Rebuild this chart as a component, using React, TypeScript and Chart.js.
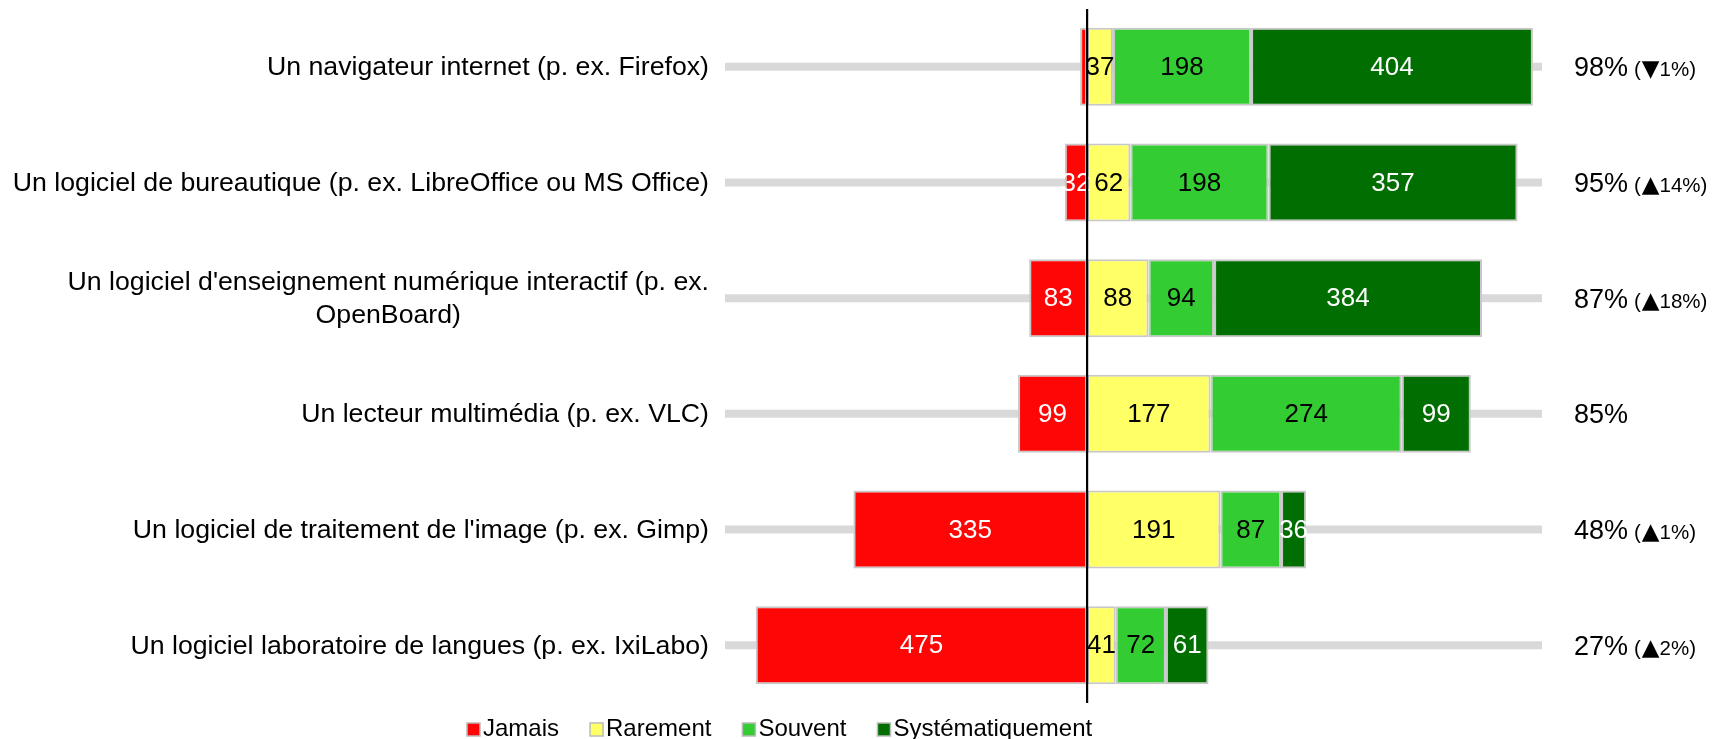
import React, { useEffect, useRef } from 'react';
import { Chart, registerables } from 'chart.js';

Chart.register(...registerables);

const categories: string[][] = [
  ['Un navigateur internet (p. ex. Firefox)'],
  ['Un logiciel de bureautique (p. ex. LibreOffice ou MS Office)'],
  ["Un logiciel d'enseignement numérique interactif (p. ex.", 'OpenBoard)'],
  ['Un lecteur multimédia (p. ex. VLC)'],
  ["Un logiciel de traitement de l'image (p. ex. Gimp)"],
  ['Un logiciel laboratoire de langues (p. ex. IxiLabo)'],
];

const seriesNames = ['Jamais', 'Rarement', 'Souvent', 'Systématiquement'];
const jamais = [10, 32, 83, 99, 335, 475];
const rarement = [37, 62, 88, 177, 191, 41];
const souvent = [198, 198, 94, 274, 87, 72];
const systematiquement = [404, 357, 384, 99, 36, 61];

const percentLabels = ['98%', '95%', '87%', '85%', '48%', '27%'];
const changeArrows = ['▼', '▲', '▲', '', '▲', '▲'];
const changeValues = ['1%', '14%', '18%', '', '1%', '2%'];

const xMin = -519;
const xMax = 652;

const colors = ['#fe0606', '#ffff66', '#33cc33', '#006e00'];
const labelColors = ['#ffffff', '#000000', '#000000', '#ffffff'];
const FONT = '"Liberation Sans", Arial, Helvetica, sans-serif';

const customDraw = {
  id: 'customDraw',
  beforeDatasetsDraw(chart: any) {
    const { ctx, chartArea, scales } = chart;
    const y = scales.y;
    ctx.save();
    ctx.strokeStyle = '#d9d9d9';
    ctx.lineWidth = 8;
    for (let i = 0; i < categories.length; i++) {
      const py = y.getPixelForValue(i);
      ctx.beginPath();
      ctx.moveTo(chartArea.left, py);
      ctx.lineTo(chartArea.right, py);
      ctx.stroke();
    }
    ctx.restore();
  },
  afterDatasetsDraw(chart: any) {
    const { ctx, chartArea, scales } = chart;
    const x = scales.x;
    const y = scales.y;
    ctx.save();
    // data labels
    ctx.font = `26px ${FONT}`;
    ctx.textAlign = 'center';
    ctx.textBaseline = 'middle';
    chart.data.datasets.forEach((ds: any, di: number) => {
      const meta = chart.getDatasetMeta(di);
      meta.data.forEach((el: any, i: number) => {
        const v = Math.abs(ds.data[i]);
        if (v < 20) return;
        const c = el.getCenterPoint();
        ctx.fillStyle = labelColors[di];
        ctx.fillText(String(v), c.x, c.y + 1);
      });
    });
    // zero line
    const zx = x.getPixelForValue(0);
    ctx.strokeStyle = '#000000';
    ctx.lineWidth = 2.2;
    ctx.beginPath();
    ctx.moveTo(zx, chartArea.top);
    ctx.lineTo(zx, chartArea.bottom);
    ctx.stroke();

    // left category labels
    ctx.font = `26.7px ${FONT}`;
    ctx.fillStyle = '#000000';
    ctx.textBaseline = 'middle';
    ctx.textAlign = 'center';
    const rightEdge = chartArea.left - 16;
    const lh = 33;
    categories.forEach((lines, i) => {
      const cy = y.getPixelForValue(i);
      const bw = Math.max(...lines.map((l) => ctx.measureText(l).width));
      const cx = rightEdge - bw / 2;
      lines.forEach((l, li) => {
        const ly = cy - ((lines.length - 1) * lh) / 2 + li * lh;
        ctx.fillText(l, cx, ly + 1);
      });
    });

    // right labels
    ctx.textAlign = 'left';
    ctx.textBaseline = 'alphabetic';
    percentLabels.forEach((p, i) => {
      const cy = y.getPixelForValue(i);
      const base = cy + 9.5;
      let sx = chartArea.right + 32;
      ctx.font = `27px ${FONT}`;
      ctx.fillText(p, sx, base);
      sx += ctx.measureText(p).width + 6;
      if (changeArrows[i]) {
        ctx.font = `20.5px ${FONT}`;
        ctx.fillText('(', sx, base);
        sx += ctx.measureText('(').width + 1;
        ctx.font = `23px "DejaVu Sans", sans-serif`;
        ctx.fillText(changeArrows[i], sx, base);
        sx += ctx.measureText(changeArrows[i]).width;
        ctx.font = `20.5px ${FONT}`;
        ctx.fillText(changeValues[i] + ')', sx, base);
      }
    });

    // legend
    ctx.font = `24px ${FONT}`;
    ctx.textBaseline = 'middle';
    let lx = 467;
    const ly = 729.5;
    chart.data.datasets.forEach((ds: any, di: number) => {
      ctx.fillStyle = colors[di];
      ctx.fillRect(lx, ly - 6.5, 13, 13);
      ctx.strokeStyle = '#bbbbbb';
      ctx.lineWidth = 1.5;
      ctx.strokeRect(lx, ly - 6.5, 13, 13);
      ctx.fillStyle = '#000000';
      ctx.fillText(ds.label, lx + 16, ly);
      lx += 16 + ctx.measureText(ds.label).width + 31;
    });
    ctx.restore();
  },
};

export default function App() {
  const ref = useRef<HTMLCanvasElement | null>(null);
  useEffect(() => {
    if (!ref.current) return;
    const seriesData = [jamais.map((v) => -v), rarement, souvent, systematiquement];
    const chart = new Chart(ref.current, {
      type: 'bar',
      data: {
        labels: categories,
        datasets: seriesNames.map((name, i) => ({
          label: name,
          data: seriesData[i],
          backgroundColor: colors[i],
          borderColor: '#c8c8c8',
          borderWidth: 2,
          borderSkipped: false,
          barPercentage: 0.675,
          categoryPercentage: 1,
        })),
      },
      options: {
        indexAxis: 'y',
        animation: false,
        responsive: false,
        maintainAspectRatio: false,
        events: [],
        layout: { padding: { left: 725, right: 173, top: 9, bottom: 36 } },
        scales: {
          x: { stacked: true, min: xMin, max: xMax, display: false },
          y: { stacked: true, display: false },
        },
        plugins: {
          legend: { display: false },
          tooltip: { enabled: false },
        },
      },
      plugins: [customDraw],
    });
    return () => chart.destroy();
  }, []);
  return (
    <div style={{ position: 'fixed', left: 0, top: 0, width: 1715, height: 739, background: '#fff' }}>
      <canvas ref={ref} width={1715} height={739} style={{ display: 'block', width: 1715, height: 739 }} />
    </div>
  );
}
